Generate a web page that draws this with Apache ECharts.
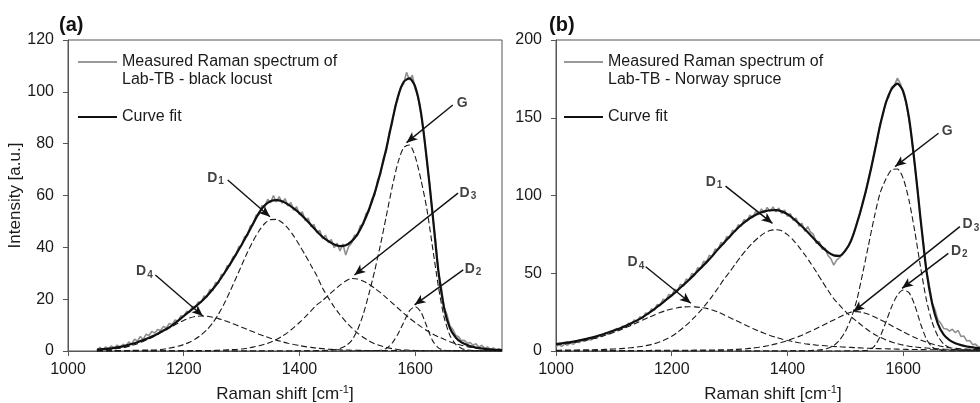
<!DOCTYPE html>
<html>
<head>
<meta charset="utf-8">
<script src="https://cdn.jsdelivr.net/npm/echarts@6/dist/echarts.min.js"></script>
<style>html,body{margin:0;padding:0;background:#fff}#c{width:980px;height:403px}</style>
</head>
<body>
<div id="c"></div>
<script>
// ---------- DATA ----------
const NAME_A = 'Measured Raman spectrum of\nLab-TB - black locust';
const NAME_B = 'Measured Raman spectrum of\nLab-TB - Norway spruce';
const FIT_NAME = 'Curve fit';
const X_TICKS = [1000, 1200, 1400, 1600];

// Panel (a) wavenumbers, fit and components (step 10)
const xA = [1050,1060,1070,1080,1090,1100,1110,1120,1130,1140,
1150,1160,1170,1180,1190,1200,1210,1220,1230,1240,
1250,1260,1270,1280,1290,1300,1310,1320,1330,1340,
1350,1360,1370,1380,1390,1400,1410,1420,1430,1440,
1450,1460,1470,1480,1490,1500,1510,1520,1530,1540,
1550,1560,1570,1580,1590,1600,1610,1620,1630,1640,
1650,1660,1670,1680,1690,1700,1710,1720,1730,1740,
1750];
const fitA = [0.5,0.7,0.9,1.2,1.6,2.1,2.7,3.4,4.2,5.1,
6.1,7.3,8.5,9.9,11.6,13.5,15.3,17.1,19.0,21.2,
23.8,26.7,30.0,33.5,37.2,41.0,45.0,49.2,53.3,56.2,
57.8,58.2,57.8,56.6,55.0,53.2,51.0,48.6,46.2,44.0,
42.4,41.1,40.5,40.8,42.3,45.0,49.2,54.5,61.0,69.0,
78.0,88.5,98.0,103.8,105.2,102.0,92.0,74.0,53.0,31.0,
16.5,8.8,5.2,3.3,2.3,1.6,1.1,0.8,0.6,0.4,
0.3];
const d4A = [0.3,0.4,0.6,0.8,1.1,1.5,2.1,2.8,3.7,4.7,
5.8,7.0,8.2,9.5,10.7,11.8,12.7,13.3,13.5,13.4,
13.0,12.5,11.8,11.0,10.1,9.2,8.3,7.4,6.5,5.7,
4.9,4.2,3.6,3.0,2.5,2.1,1.7,1.4,1.1,0.9,
0.7,0.55,0.45,0.35,0.3,0.25,0.22,0.2,0.18,0.16,
0.15,0.14,0.13,0.12,0.11,0.1,0.1,0.1,0.1,0.1,
0.1,0.1,0.1,0.1,0.1,0.1,0.1,0.1,0.1,0.1,
0.1];
const d1A = [0.1,0.1,0.12,0.14,0.16,0.2,0.23,0.27,0.32,0.36,
0.4,0.6,0.9,1.3,1.8,2.5,3.4,4.6,6.2,8.2,
10.8,14.2,18.3,23.0,28.0,33.0,38.0,42.5,46.3,49.2,
50.7,50.8,49.6,47.4,44.4,40.8,37.0,33.0,29.0,24.2,
20.5,17.0,14.0,11.3,9.0,7.0,5.3,3.9,2.8,2.0,
1.4,0.9,0.6,0.4,0.3,0.2,0.15,0.12,0.1,0.1,
0.1,0.1,0.1,0.1,0.1,0.1,0.1,0.1,0.1,0.1,
0.1];
const d3A = [0.05,0.05,0.05,0.05,0.05,0.05,0.05,0.05,0.05,0.05,
0.06,0.07,0.08,0.09,0.1,0.11,0.12,0.14,0.16,0.18,
0.2,0.3,0.4,0.5,0.6,0.8,1.1,1.5,2.0,2.6,
3.4,4.4,5.7,7.2,9.0,11.0,13.2,15.5,17.8,19.5,
21.5,23.5,25.4,27.0,28.0,27.8,27.0,25.8,24.2,22.5,
20.6,18.6,16.6,14.6,12.7,11.0,9.4,7.9,6.6,5.5,
4.5,3.6,2.8,2.2,1.7,1.3,1.0,0.75,0.55,0.4,
0.3];
const gA = [0,0,0,0,0,0,0,0,0,0,
0,0,0,0,0,0,0,0,0,0,
0,0,0,0,0,0,0,0,0,0,
0,0,0,0,0.05,0.05,0.1,0.1,0.15,0.2,
0.3,0.5,1.0,2.0,4.0,8.0,14.0,22.0,31.0,41.0,
52.0,63.0,72.5,78.5,79.5,75.0,66.0,55.0,40.0,25.0,
13.0,6.0,2.6,1.0,0.4,0.15,0.1,0.05,0,0,
0];
const d2A = [0,0,0,0,0,0,0,0,0,0,
0,0,0,0,0,0,0,0,0,0,
0,0,0,0,0,0,0,0,0,0,
0,0,0,0,0,0,0,0,0,0,
0,0,0,0,0,0.05,0.05,0.1,0.15,0.3,
1.0,3.0,6.5,11.0,15.5,17.1,15.0,9.5,4.0,1.2,
0.3,0.1,0.05,0,0,0,0,0,0,0,
0];

// Panel (a) measured spectrum (step 5)
const xMA = [1050,1055,1060,1065,1070,1075,1080,1085,1090,1095,
1100,1105,1110,1115,1120,1125,1130,1135,1140,1145,
1150,1155,1160,1165,1170,1175,1180,1185,1190,1195,
1200,1205,1210,1215,1220,1225,1230,1235,1240,1245,
1250,1255,1260,1265,1270,1275,1280,1285,1290,1295,
1300,1305,1310,1315,1320,1325,1330,1335,1340,1345,
1350,1355,1360,1365,1370,1375,1380,1385,1390,1395,
1400,1405,1410,1415,1420,1425,1430,1435,1440,1445,
1450,1455,1460,1465,1470,1475,1480,1485,1490,1495,
1500,1505,1510,1515,1520,1525,1530,1535,1540,1545,
1550,1555,1560,1565,1570,1575,1580,1585,1590,1595,
1600,1605,1610,1615,1620,1625,1630,1635,1640,1645,
1650,1655,1660,1665,1670,1675,1680,1685,1690,1695,
1700,1705,1710,1715,1720,1725,1730,1735,1740,1745,
1750];
const measA = [0.2,1.4,0.5,1.6,0.8,2.0,1.0,2.3,1.2,2.6,
1.9,3.5,2.6,4.6,3.8,5.6,4.4,6.5,6.0,7.6,
6.9,8.3,7.9,9.5,8.9,10.6,10.2,12.0,11.5,13.6,
13.2,15.3,14.9,17.2,16.6,19.0,18.6,21.2,20.8,23.7,
23.3,26.4,26.2,29.5,29.6,32.9,33.0,36.3,36.8,40.2,
40.6,44.1,44.5,48.3,48.7,52.4,52.6,56.1,55.6,58.5,
57.2,60.0,57.5,59.6,57.0,58.8,56.0,57.3,54.3,55.7,
52.6,53.7,50.3,51.3,48.0,48.9,45.6,46.6,43.3,44.7,
41.8,43.0,39.8,41.6,38.6,41.3,37.0,40.3,41.6,44.7,
44.4,48.3,48.7,53.0,53.9,58.6,60.2,65.8,68.1,74.4,
77.0,84.3,87.6,94.4,97.2,102.0,103.0,107.5,104.6,106.4,
101.2,98.0,91.4,84.0,73.3,64.5,52.4,43.1,30.6,25.0,
16.9,14.0,9.6,8.4,6.0,5.5,4.0,4.1,3.0,3.3,
2.2,2.8,1.5,2.2,1.0,1.6,0.5,1.2,0.3,0.9,
0.2];

// Panel (b) wavenumbers, fit and components (step 10)
const xB = [1000,1010,1020,1030,1040,1050,1060,1070,1080,1090,
1100,1110,1120,1130,1140,1150,1160,1170,1180,1190,
1200,1210,1220,1230,1240,1250,1260,1270,1280,1290,
1300,1310,1320,1330,1340,1350,1360,1370,1380,1390,
1400,1410,1420,1430,1440,1450,1460,1470,1480,1490,
1500,1510,1520,1530,1540,1550,1560,1570,1580,1590,
1600,1610,1620,1630,1640,1650,1660,1670,1680,1690,
1700,1710,1720,1730,1740,1750];
const fitB = [4.5,5.0,5.5,6.0,6.8,7.6,8.4,9.4,10.6,11.9,
13.2,14.5,16.0,17.8,19.7,21.8,24.3,27.0,29.8,32.8,
35.8,39.0,42.4,45.8,49.5,53.3,57.0,61.0,65.5,69.5,
73.5,77.5,81.0,84.0,86.5,88.5,89.8,90.5,90.6,89.8,
88.0,85.2,81.8,78.3,74.5,70.5,66.8,63.6,61.5,61.2,
64.5,71.0,82.0,95.0,110.0,127.0,145.0,159.5,168.5,172.0,
167.0,150.0,120.0,85.0,52.0,30.5,17.5,10.5,7.0,5.0,
3.8,2.9,2.3,1.8,1.4,1.1];
const d4B = [3.9,4.3,4.8,5.4,6.0,6.7,7.5,8.4,9.5,10.7,
12.0,13.4,14.9,16.5,18.2,19.9,21.6,23.2,24.7,26.0,
27.0,27.8,28.3,28.5,28.4,28.0,27.4,26.4,25.0,23.3,
21.5,19.8,18.0,16.2,14.5,12.9,11.4,10.0,8.8,7.7,
6.8,6.0,5.3,4.7,4.2,3.8,3.5,3.2,2.9,2.7,
2.5,2.3,2.1,1.9,1.75,1.6,1.5,1.4,1.3,1.2,
1.1,1.0,0.95,0.9,0.85,0.8,0.75,0.7,0.65,0.6,
0.58,0.55,0.52,0.5,0.48,0.45];
const d1B = [0.5,0.55,0.6,0.65,0.7,0.75,0.8,0.9,1.0,1.15,
1.3,1.5,1.8,2.1,2.6,3.1,3.8,4.7,5.9,7.5,
9.5,12.0,15.0,18.3,22.0,26.0,30.5,35.3,40.5,46.0,
50.8,56.0,61.0,65.6,69.6,73.0,75.8,77.5,78.0,77.3,
74.8,71.3,66.8,61.9,56.5,50.8,44.8,39.0,33.6,29.5,
25.5,22.0,19.0,16.0,13.2,10.8,8.8,7.1,5.8,4.7,
3.8,3.1,2.6,2.2,1.9,1.6,1.4,1.2,1.05,0.9,
0.8,0.72,0.65,0.6,0.55,0.5];
const d3B = [0.2,0.2,0.2,0.2,0.2,0.2,0.2,0.2,0.2,0.2,
0.25,0.25,0.3,0.3,0.3,0.35,0.35,0.4,0.4,0.45,
0.45,0.5,0.5,0.5,0.55,0.55,0.6,0.65,0.7,0.75,
0.8,1.0,1.2,1.5,1.9,2.4,3.0,3.7,4.6,5.6,
6.7,8.0,9.4,11.0,12.7,14.5,16.3,18.2,20.0,21.8,
23.6,25.0,25.3,24.8,23.6,22.0,20.2,18.3,16.3,14.3,
12.3,10.4,8.7,7.1,5.7,4.5,3.5,2.7,2.1,1.7,
1.4,1.2,1.0,0.9,0.8,0.7];
const gB = [0,0,0,0,0,0,0,0,0,0,
0,0,0,0,0,0,0,0,0,0,
0,0,0,0,0,0,0,0,0,0,
0,0,0,0,0,0,0,0,0,0,
0.05,0.1,0.1,0.2,0.3,0.5,0.9,1.8,3.5,7.0,
12.5,21.0,33.0,50.0,68.0,86.0,101.5,110.5,116.5,117.0,
111.0,97.0,77.0,54.0,33.0,18.5,9.5,4.5,2.2,1.0,
0.5,0.3,0.2,0.1,0.1,0.1];
const d2B = [0,0,0,0,0,0,0,0,0,0,
0,0,0,0,0,0,0,0,0,0,
0,0,0,0,0,0,0,0,0,0,
0,0,0,0,0,0,0,0,0,0,
0,0,0,0,0,0,0,0,0,0,
0.1,0.1,0.1,0.2,0.6,3.0,9.2,18.5,28.5,36.0,
39.2,37.5,29.5,17.5,7.8,2.5,0.7,0.2,0.1,0.1,
0,0,0,0,0,0];

// Panel (b) measured spectrum (step 5)
const xMB = [1000,1005,1010,1015,1020,1025,1030,1035,1040,1045,
1050,1055,1060,1065,1070,1075,1080,1085,1090,1095,
1100,1105,1110,1115,1120,1125,1130,1135,1140,1145,
1150,1155,1160,1165,1170,1175,1180,1185,1190,1195,
1200,1205,1210,1215,1220,1225,1230,1235,1240,1245,
1250,1255,1260,1265,1270,1275,1280,1285,1290,1295,
1300,1305,1310,1315,1320,1325,1330,1335,1340,1345,
1350,1355,1360,1365,1370,1375,1380,1385,1390,1395,
1400,1405,1410,1415,1420,1425,1430,1435,1440,1445,
1450,1455,1460,1465,1470,1475,1480,1485,1490,1495,
1500,1505,1510,1515,1520,1525,1530,1535,1540,1545,
1550,1555,1560,1565,1570,1575,1580,1585,1590,1595,
1600,1605,1610,1615,1620,1625,1630,1635,1640,1645,
1650,1655,1660,1665,1670,1675,1680,1685,1690,1695,
1700,1705,1710,1715,1720,1725,1730,1735,1740,1745,
1750];
const measB = [2.6,4.1,3.0,4.6,3.7,5.2,4.3,6.0,5.4,6.9,
6.2,7.8,7.0,8.9,8.1,10.1,9.3,11.4,10.8,12.9,
12.0,14.4,13.6,15.9,15.1,17.8,17.0,19.9,19.0,22.0,
21.0,24.5,23.6,27.1,26.2,30.0,29.0,33.2,32.6,36.5,
35.4,39.8,38.6,42.9,41.9,46.3,45.4,49.9,49.0,53.6,
52.9,57.7,57.2,61.5,60.8,65.6,65.0,69.8,68.9,73.6,
72.8,77.7,76.9,81.2,80.3,84.6,83.3,87.4,85.8,89.7,
87.7,91.4,88.9,92.4,89.6,92.6,89.5,91.9,88.4,90.6,
86.6,88.4,83.9,85.6,80.3,82.2,77.0,79.9,76.5,75.0,
69.2,70.4,65.4,66.0,61.4,59.3,55.2,58.4,60.0,62.3,
65.0,67.2,71.6,76.0,82.8,87.8,96.0,101.8,111.2,117.7,
128.1,135.2,146.0,151.5,160.5,163.2,169.6,171.0,175.5,172.0,
166.0,159.6,149.0,136.2,119.0,103.6,84.0,69.6,51.5,42.6,
31.0,26.5,20.0,17.8,14.5,14.2,12.8,14.0,11.8,13.2,
9.3,9.6,6.4,6.7,4.1,4.4,2.5,3.1,1.7,2.1,
1.2];

// Peak annotations: arrow [fromX, fromY, toX, toY] and label [x, y, text]
const arrowsA = [[1665,94.9,1585,80.4],[1276,66.0,1349,51.8],[1674,60.9,1495,29.3],[1683,31.3,1599,17.8],[1151,29.3,1233,13.5]];
const labelsA = [[1681,95.7,'G'],[1255,66.8,'D{s|1}'],[1691,61.0,'D{s|3}'],[1700,31.6,'D{s|2}'],[1132,30.7,'D{s|4}']];
const arrowsB = [[1661,140,1586,118.6],[1293,106,1374,82.1],[1698,80,1514,25.3],[1678,62.8,1598,40.3],[1155,54.2,1233,30.7]];
const labelsB = [[1676,141.7,'G'],[1273,108.9,'D{s|1}'],[1717,81.5,'D{s|3}'],[1697,64.3,'D{s|2}'],[1138,57.0,'D{s|4}']];

// ---------- CHART ----------
const FONT = 'Liberation Sans, Arial, sans-serif';
const TXT = '#1a1a1a';
const AXC = '#555';
const pairs = (xs, ys) => xs.map((x, i) => [x, ys[i]]);

function xAxisCfg(i) {
  return {
    type: 'value', gridIndex: i, min: 1000, max: 1750, interval: 200,
    axisLine: {show: true, lineStyle: {color: AXC, width: 1}},
    axisTick: {show: true, length: 5, customValues: X_TICKS, lineStyle: {color: AXC}},
    axisLabel: {customValues: X_TICKS, fontSize: 16, color: TXT, margin: 11, fontFamily: FONT,
      formatter: function (v) { return String(v); }},
    splitLine: {show: false},
    name: 'Raman shift [cm{sup|-1}]', nameLocation: 'middle', nameGap: 33,
    nameTextStyle: {fontSize: 17, color: TXT, fontFamily: FONT,
      rich: {sup: {fontSize: 11, color: TXT, fontFamily: FONT, padding: [0, 0, 9, 0]}}}
  };
}
function yAxisCfg(i, max, interval, name) {
  return {
    type: 'value', gridIndex: i, min: 0, max: max, interval: interval,
    axisLine: {show: true, lineStyle: {color: AXC, width: 1}},
    axisTick: {show: true, length: 5, lineStyle: {color: AXC}},
    axisLabel: {fontSize: 16, color: TXT, margin: 14, fontFamily: FONT},
    splitLine: {show: false},
    name: name, nameLocation: 'middle', nameGap: 41,
    nameTextStyle: {fontSize: 17, color: TXT, fontFamily: FONT}
  };
}
function legendCfg(left, first) {
  return {
    left: left, top: 35, orient: 'vertical', padding: 0,
    itemWidth: 39, itemHeight: 2, itemGap: 19, selectedMode: false, icon: 'rect',
    textStyle: {fontSize: 16, color: TXT, lineHeight: 18, fontFamily: FONT},
    formatter: function (name) { return name.indexOf('\n') >= 0 ? '\n' + name : name; },
    data: [{name: first}, {name: FIT_NAME}]
  };
}
function panelSeries(i, measName, xm, meas, xs, comps, fit, arrows, labels) {
  const out = [];
  out.push({
    name: measName, type: 'line', xAxisIndex: i, yAxisIndex: i,
    data: pairs(xm, meas), symbol: 'none', showSymbol: false,
    lineStyle: {color: '#8f8f8f', width: 1.6}, itemStyle: {color: '#999'},
    z: 2, silent: true
  });
  comps.forEach(function (c) {
    out.push({
      name: 'comp', type: 'line', xAxisIndex: i, yAxisIndex: i,
      data: pairs(xs, c), symbol: 'none', showSymbol: false, smooth: 0.25,
      lineStyle: {color: '#1a1a1a', width: 1.1, type: [6, 3]},
      z: 3, silent: true
    });
  });
  out.push({
    name: FIT_NAME, type: 'line', xAxisIndex: i, yAxisIndex: i,
    data: pairs(xs, fit), symbol: 'none', showSymbol: false, smooth: 0.25,
    lineStyle: {color: '#111', width: 2.2}, itemStyle: {color: '#111'},
    z: 4, silent: true
  });
  out.push({
    name: 'labels', type: 'scatter', xAxisIndex: i, yAxisIndex: i,
    symbol: 'circle', symbolSize: 1, itemStyle: {color: 'rgba(0,0,0,0)'},
    data: labels.map(function (l) { return {value: [l[0], l[1]], name: l[2]}; }),
    label: {show: true, position: 'inside', formatter: function (p) { return p.name; },
      fontSize: 14, fontWeight: 'bold', color: '#111', fontFamily: FONT,
      rich: {s: {fontSize: 10, fontWeight: 'bold', color: '#111', fontFamily: FONT, padding: [7, 0, 0, 1]}}},
    silent: true, z: 10,
    markLine: {
      silent: true, animation: false, symbol: ['none', 'arrow'], symbolSize: [7, 11],
      label: {show: false}, emphasis: {disabled: true},
      lineStyle: {color: '#111', width: 1.4, type: 'solid'},
      data: arrows.map(function (a) { return [{coord: [a[0], a[1]]}, {coord: [a[2], a[3]]}]; })
    }
  });
  return out;
}

const chart = echarts.init(document.getElementById('c'), null, {renderer: 'canvas'});
chart.setOption({
  animation: false,
  backgroundColor: '#fff',
  textStyle: {fontFamily: FONT},
  title: [
    {text: '(a)', left: 59, top: 15, padding: 0, textStyle: {fontSize: 20, fontWeight: 'bold', color: '#111', fontFamily: FONT}},
    {text: '(b)', left: 549, top: 15, padding: 0, textStyle: {fontSize: 20, fontWeight: 'bold', color: '#111', fontFamily: FONT}}
  ],
  legend: [legendCfg(78, NAME_A), legendCfg(564, NAME_B)],
  grid: [
    {left: 68, top: 40, width: 434, height: 311, show: true, borderColor: AXC, borderWidth: 1, backgroundColor: 'transparent', outerBoundsMode: 'none'},
    {left: 556, top: 40, width: 434, height: 311, show: true, borderColor: AXC, borderWidth: 1, backgroundColor: 'transparent', outerBoundsMode: 'none'}
  ],
  xAxis: [xAxisCfg(0), xAxisCfg(1)],
  yAxis: [yAxisCfg(0, 120, 20, 'Intensity [a.u.]'), yAxisCfg(1, 200, 50, '')],
  series: [].concat(
    panelSeries(0, NAME_A, xMA, measA, xA, [d4A, d1A, d3A, gA, d2A], fitA, arrowsA, labelsA),
    panelSeries(1, NAME_B, xMB, measB, xB, [d4B, d1B, d3B, gB, d2B], fitB, arrowsB, labelsB)
  )
});
</script>
</body>
</html>
